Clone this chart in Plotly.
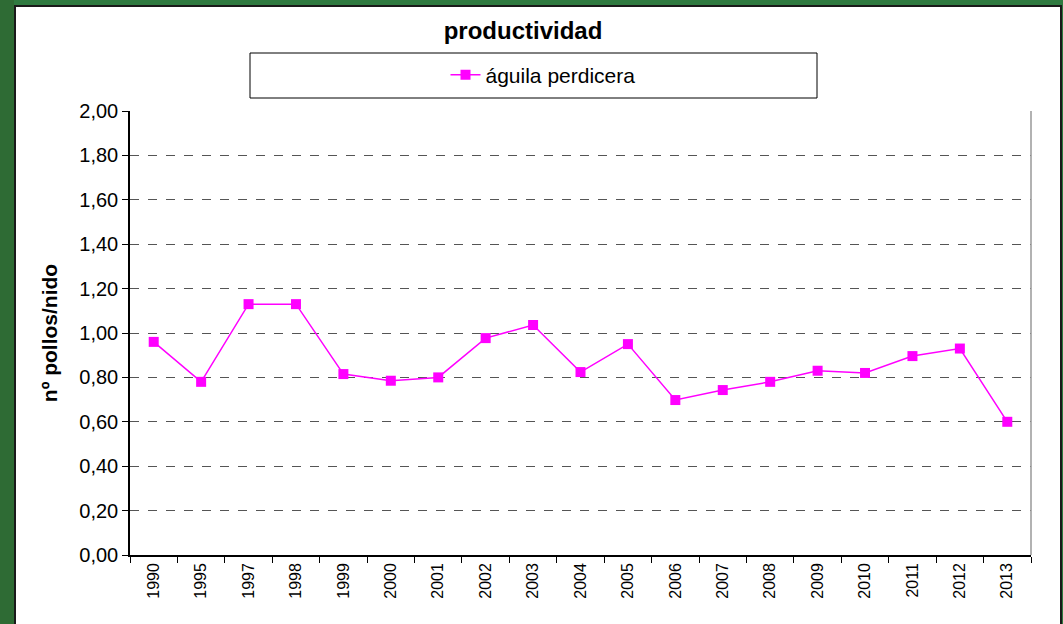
import plotly.graph_objects as go

# datos
years = ["1990", "1995", "1997", "1998", "1999", "2000", "2001", "2002", "2003", "2004",
         "2005", "2006", "2007", "2008", "2009", "2010", "2011", "2012", "2013"]
productividad = [0.96, 0.78, 1.13, 1.13, 0.815, 0.785, 0.80, 0.977, 1.036, 0.824,
                 0.95, 0.698, 0.743, 0.78, 0.83, 0.82, 0.896, 0.93, 0.60]
y_ticks = [0, 0.2, 0.4, 0.6, 0.8, 1.0, 1.2, 1.4, 1.6, 1.8, 2.0]

W, H = 1063, 624
L, R, T, B = 130, 32, 111, 69
PW, PH = W - L - R, H - T - B


def px_x(p):
    return (p - L) / PW


def px_y(p):
    return (H - B - p) / PH


FONT = "Arial, Liberation Sans, sans-serif"

fig = go.Figure()
fig.add_trace(go.Scatter(
    x=years, y=productividad, name="águila perdicera", mode="lines+markers",
    line=dict(color="#ff00ff", width=1.5),
    marker=dict(symbol="square", size=10, color="#ff00ff"),
))

fig.update_layout(
    width=W, height=H,
    margin=dict(l=L, r=R, t=T, b=B),
    paper_bgcolor="#2f7a40",
    plot_bgcolor="white",
    separators=",.",
    font=dict(family=FONT, color="black", size=15),
    title=dict(text="<b>productividad</b>", x=523 / W, xanchor="center",
               y=1 - 31 / H, yanchor="middle", font=dict(size=24, family=FONT)),
    showlegend=True,
    legend=dict(x=px_x(543), y=px_y(75), xanchor="center", yanchor="middle",
                bgcolor="rgba(0,0,0,0)", borderwidth=0, font=dict(size=21)),
    xaxis=dict(
        type="category", tickangle=-90, tickson="boundaries", ticks="outside", ticklen=6,
        tickcolor="black", showline=True, linecolor="black", linewidth=1.5,
        showgrid=False, tickfont=dict(size=16), range=[-0.5, 18.5],
    ),
    yaxis=dict(
        range=[0, 2], tickvals=y_ticks, tickformat=".2f", ticks="outside", ticklen=6,
        tickcolor="black", showline=True, linecolor="black", linewidth=1.5,
        showgrid=True, gridcolor="#555555", griddash="dash", gridwidth=1,
        zeroline=False, tickfont=dict(size=20),
        title=dict(text="<b>nº pollos/nido</b>", font=dict(size=21), standoff=16),
    ),
    shapes=[
        # zona blanca del gráfico
        dict(type="rect", xref="paper", yref="paper", layer="below",
             x0=px_x(15), x1=px_x(1061), y0=px_y(640), y1=px_y(6),
             fillcolor="white", line=dict(color="#1a1a1a", width=2)),
        # franja izquierda más oscura
        dict(type="rect", xref="paper", yref="paper", layer="below",
             x0=px_x(-5), x1=px_x(14), y0=px_y(640), y1=px_y(-5),
             fillcolor="#2e6b34", line=dict(width=0)),
        # cuadro de la leyenda
        dict(type="rect", xref="paper", yref="paper",
             x0=px_x(250), x1=px_x(817), y0=px_y(98), y1=px_y(53),
             fillcolor="rgba(0,0,0,0)", line=dict(color="black", width=1)),
        # borde derecho del área de trazado
        dict(type="line", xref="paper", yref="paper", x0=1, x1=1, y0=0, y1=1,
             line=dict(color="#999999", width=1.5)),
    ],
)

fig.write_html("out.html", config={"displayModeBar": False},
               post_script="document.body.style.margin='0';")
